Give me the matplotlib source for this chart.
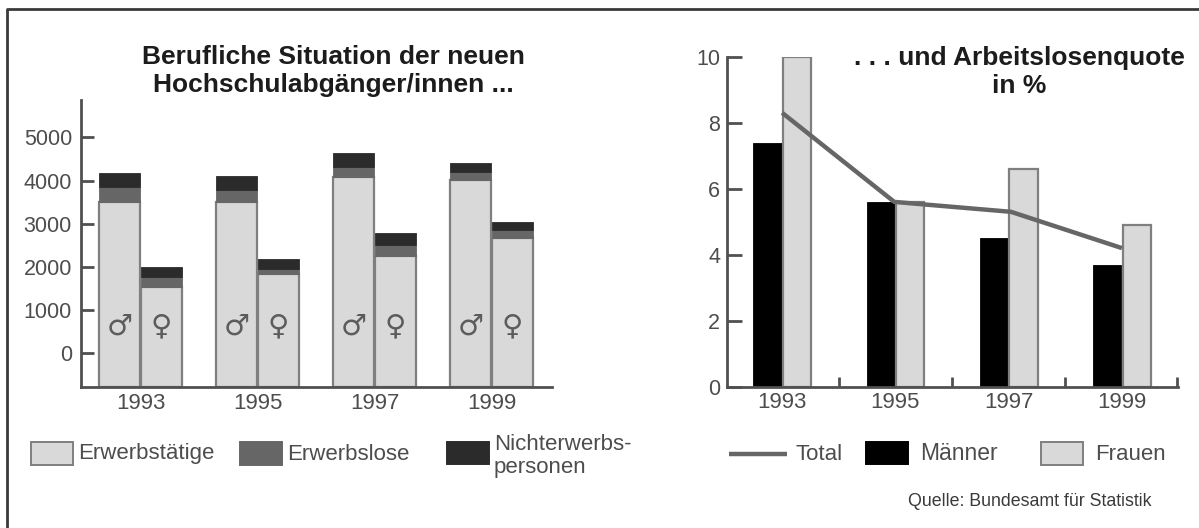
import matplotlib
matplotlib.use("Agg")
import matplotlib.pyplot as plt
from matplotlib.patches import Rectangle
from matplotlib.lines import Line2D

plt.rcParams['font.family'] = ['Liberation Sans', 'DejaVu Sans']

years = ['1993', '1995', '1997', '1999']
men_employed = [3500, 3500, 4090, 4010]
men_unemployed = [360, 290, 215, 200]
men_inactive = [310, 315, 345, 200]
women_employed = [1520, 1825, 2260, 2660]
women_unemployed = [250, 115, 245, 190]
women_inactive = [220, 240, 285, 200]
rate_total = [8.3, 5.6, 5.3, 4.2]
rate_men = [7.4, 5.6, 4.5, 3.7]
rate_women = [10.0, 5.6, 6.6, 4.9]
left_ticks = [0, 1000, 2000, 3000, 4000, 5000]
right_ticks = [0, 2, 4, 6, 8, 10]

W, H = 1199, 528
LIGHT, MID, DARK = '#d9d9d9', '#666666', '#2b2b2b'
EDGE = '#7f7f7f'
TXT = '#4d4d4d'
AXC = '#505050'

fig = plt.figure(figsize=(W / 100, H / 100), dpi=100, facecolor='white')

def axes_px(x0, x1, y_top, y_bot):
    return fig.add_axes([x0 / W, 1 - y_bot / H, (x1 - x0) / W, (y_bot - y_top) / H])

def style(ax):
    ax.patch.set_alpha(0)
    for s in ('top', 'right'):
        ax.spines[s].set_visible(False)
    for s in ('left', 'bottom'):
        ax.spines[s].set_color(AXC)
        ax.spines[s].set_linewidth(2)

# left chart
ax = axes_px(81, 552, 100, 387)
style(ax)
ax.set_xlim(-0.509, 3.517)
ax.set_ylim(-790, 5870)
xs = range(4)
bw = 0.355
off = 0.18
for sign, a, b, c in ((-1, men_employed, men_unemployed, men_inactive),
                      (1, women_employed, women_unemployed, women_inactive)):
    pos = [x + sign * off for x in xs]
    base = [-790] * 4
    h0 = [v + 790 for v in a]
    ax.bar(pos, h0, bw, bottom=base, color=LIGHT, edgecolor=EDGE, linewidth=1.6)
    ax.bar(pos, b, bw, bottom=a, color=MID, edgecolor=MID, linewidth=0.6)
    bot = [p + q for p, q in zip(a, b)]
    ax.bar(pos, c, bw, bottom=bot, color=DARK, edgecolor=DARK, linewidth=0.6)
for x in xs:
    ax.text(x - off, 610, '\u2642', family='DejaVu Sans', fontsize=21, color='#5c5c5c',
            ha='center', va='center')
    ax.text(x + off, 620, '\u2640', family='DejaVu Sans', fontsize=21, color='#5c5c5c',
            ha='center', va='center')
ax.set_yticks(left_ticks)
ax.set_xticks(list(xs))
ax.set_xticklabels(years)
ax.tick_params(axis='y', direction='in', length=9, width=2, color=AXC, labelcolor=TXT,
               labelsize=15.5, pad=6.5)
ax.tick_params(axis='x', length=0, labelcolor=TXT, labelsize=16, pad=4)

# right chart
ax2 = axes_px(727, 1178, 56.7, 386.7)
style(ax2)
ax2.set_xlim(-0.487, 3.495)
ax2.set_ylim(0, 10)
bw2 = 0.25
men_pos = [x - 0.13 for x in xs]
women_pos = [x + 0.13 for x in xs]
ax2.bar(men_pos, rate_men, bw2, color='black', edgecolor='black', linewidth=0.6)
ax2.bar(women_pos, rate_women, bw2, color=LIGHT, edgecolor=EDGE, linewidth=1.6)
ax2.plot([0, 0.99, 2.02, 3.0], rate_total, color='#666666', lw=3.2, solid_capstyle='butt',
         solid_joinstyle='miter', zorder=5)
ax2.set_yticks(right_ticks)
ax2.set_xticks(list(xs))
ax2.set_xticklabels(years)
ax2.set_xticks([0.5, 1.5, 2.5, 3.49], minor=True)
ax2.tick_params(axis='y', direction='in', length=11, width=2, color=AXC, labelcolor=TXT,
                labelsize=15.5, pad=5)
ax2.tick_params(axis='x', which='major', length=0, labelcolor=TXT, labelsize=16, pad=4)
ax2.tick_params(axis='x', which='minor', direction='in', length=7, width=2, color=AXC)

def px_text(x, y, s, **kw):
    return fig.text(x / W, 1 - y / H, s, **kw)

# titles
px_text(333, 71, 'Berufliche Situation der neuen\nHochschulabgänger/innen ...', fontsize=19,
        fontweight='bold', color='#1c1c1c', ha='center', va='center', linespacing=1.25)
px_text(1019, 72, '. . . und Arbeitslosenquote\nin %', fontsize=19, fontweight='bold',
        color='#1c1c1c', ha='center', va='center', linespacing=1.22)

# legends
def swatch(x0, x1, y0, y1, fc, ec):
    fig.add_artist(Rectangle((x0 / W, 1 - y1 / H), (x1 - x0) / W, (y1 - y0) / H,
                             transform=fig.transFigure, facecolor=fc, edgecolor=ec, linewidth=1.4))

swatch(31, 73, 442, 465, LIGHT, EDGE)
px_text(78, 454, 'Erwerbstätige', fontsize=16, color=TXT, va='center')
swatch(240, 282, 442, 465, MID, MID)
px_text(287, 454, 'Erwerbslose', fontsize=16, color=TXT, va='center')
swatch(447, 489, 442, 464, DARK, DARK)
px_text(494, 456, 'Nichterwerbs-\npersonen', fontsize=16, color=TXT, va='center', linespacing=1.16)

fig.add_artist(Line2D([729 / W, 787 / W], [1 - 454 / H] * 2, color='#666666', lw=3.2,
                      solid_capstyle='butt', transform=fig.transFigure))
px_text(795, 454, 'Total', fontsize=16, color=TXT, va='center')
swatch(866, 908, 442, 464, 'black', 'black')
px_text(920, 454, 'Männer', fontsize=16.5, color=TXT, va='center')
swatch(1041, 1083, 442, 465, LIGHT, EDGE)
px_text(1095, 454, 'Frauen', fontsize=16, color=TXT, va='center')
px_text(908, 502, 'Quelle: Bundesamt für Statistik', fontsize=12.8, color='#3a3a3a', va='center')

# frame
fig.add_artist(Line2D([7 / W, 7 / W, 1], [0, 1 - 9 / H, 1 - 9 / H], color='#3a3a3a', lw=2,
                      transform=fig.transFigure))

fig.savefig('out.png', dpi=100)
